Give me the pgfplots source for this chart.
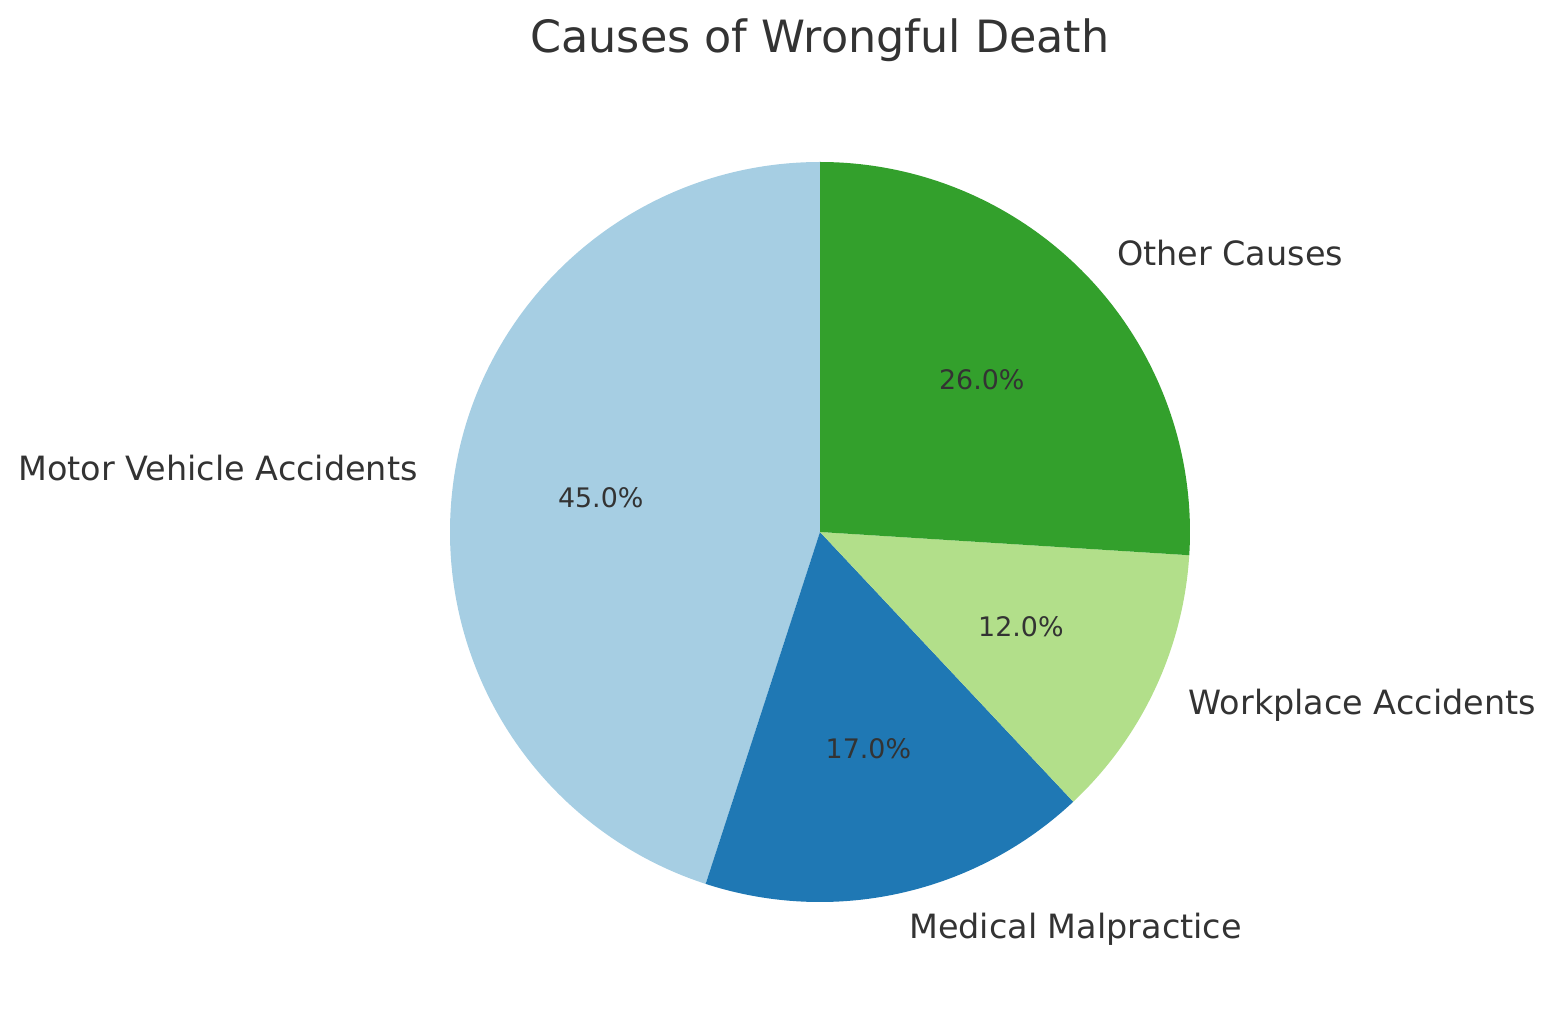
\documentclass[border=0pt]{standalone}
\usepackage{pgfplots}
\usepackage{pgfplotstable}
\pgfplotsset{compat=1.18}
\usepackage{fontspec}
\setmainfont{DejaVu Sans}

\definecolor{txt}{HTML}{333333}
\definecolor{c0}{HTML}{A6CEE3}
\definecolor{c1}{HTML}{1F78B4}
\definecolor{c2}{HTML}{B2DF8A}
\definecolor{c3}{HTML}{33A02C}

% share of each cause, in percent
\pgfplotstableread[col sep=comma]{
label,value
Motor Vehicle Accidents,45
Medical Malpractice,17
Workplace Accidents,12
Other Causes,26
}\causes

\begin{document}
\begin{tikzpicture}
% one axis unit = one pixel of the reference, pie centre at (0,0)
\begin{axis}[
    x=0.48pt, y=0.48pt,
    xmin=-820, xmax=734,
    ymin=-482, ymax=532,
    hide axis,
    clip=false,
]
\pgfplotsextra{
  \def\R{370}
  \global\def\acc{90}
  \foreach \i in {0,1,2,3}{
    \pgfplotstablegetelem{\i}{value}\of\causes \let\v\pgfplotsretval
    \pgfplotstablegetelem{\i}{label}\of\causes \let\lab\pgfplotsretval
    \pgfmathsetmacro\a{\acc}
    \pgfmathsetmacro\b{\a+3.6*\v}
    \pgfmathsetmacro\m{(\a+\b)/2}
    \fill[c\i] (axis cs:0,0) -- (axis cs:{\R*cos(\a)},{\R*sin(\a)})
      arc[start angle=\a, end angle=\b, radius=177.6pt] -- cycle;
    \pgfmathsetmacro\cm{cos(\m)}
    \ifdim\cm pt>0pt \def\anc{west}\else\def\anc{east}\fi
    \node[anchor=\anc, text=txt, inner sep=0pt,
          font=\fontsize{16.05}{19}\selectfont]
      at (axis cs:{1.1*\R*cos(\m)},{1.1*\R*sin(\m)}) {\lab};
    \node[text=txt, inner sep=0pt, font=\fontsize{12.9}{15}\selectfont]
      at (axis cs:{0.6*\R*cos(\m)},{0.6*\R*sin(\m)})
      {\pgfmathprintnumber[fixed,fixed zerofill,precision=1,
         assume math mode=true]{\v}\%};
    \global\let\acc\b
  }
  \node[text=txt, inner sep=0pt, font=\fontsize{21.35}{25}\selectfont]
    at (axis cs:0,492) {Causes of Wrongful Death};
  \pgfresetboundingbox
  \path (axis cs:-820,-482) rectangle (axis cs:734,532);
}
\end{axis}
\end{tikzpicture}
\end{document}
